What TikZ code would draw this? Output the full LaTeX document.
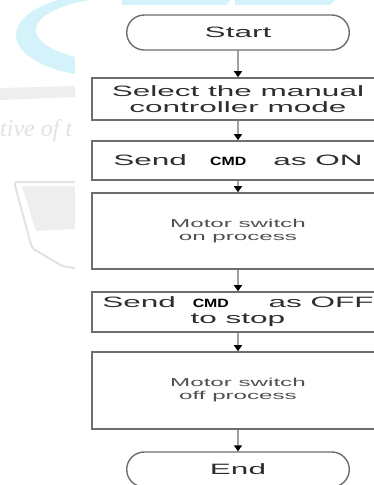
\documentclass[tikz,border=0pt]{standalone}
\usepackage{fontspec}
\usepackage{graphicx}
\setmainfont{Liberation Sans}
\newfontfamily\wmserif{Liberation Serif}
\usetikzlibrary{arrows.meta, positioning}
\definecolor{boxgray}{HTML}{6E6E6E}
\definecolor{textgray}{HTML}{2E2E2E}
\definecolor{softgray}{HTML}{505050}
\definecolor{wmcyan}{HTML}{D3F2FA}
\definecolor{wmgray}{HTML}{EEEEEE}
\definecolor{wmline}{HTML}{E2E2E2}
\newcommand{\cmdtag}{{\fontsize{12}{12}\selectfont\bfseries\color{black}\scalebox{0.63}[1]{CMD}}}

\begin{document}
\begin{tikzpicture}[x=1pt, y=1pt,
  wide/.style={xscale=2.1, transform shape},
  term/.style={wide, draw=boxgray, line width=1.4pt, rounded corners=17.5pt, minimum width=106pt, minimum height=35pt, font=\fontsize{15}{16}\selectfont, text=textgray},
  procbox/.style={wide, draw=boxgray, line width=1.6pt, minimum width=139pt, align=center, font=\fontsize{15}{16}\selectfont, text=textgray},
  softbox/.style={procbox, font=\fontsize{11.5}{13}\selectfont, text=softgray},
  flow/.style={draw=boxgray, line width=1.4pt, -{Triangle[length=6pt, width=8pt, color=black]}}]
\useasboundingbox (0,0) rectangle (374,-485);
\clip (0,0) rectangle (374,-485);
% Background watermark
\fill[wmcyan, even odd rule] (110,-35) ellipse [x radius=94, y radius=42] (128,-30) ellipse [x radius=92, y radius=33];
\fill[wmcyan] (122,0) -- (230,0) -- (227,-5) -- (122,-5) -- cycle;
\fill[wmcyan] (235,0) -- (335,0) -- (330,-5) -- (235,-5) -- cycle;
\fill[wmgray] (0,-88) -- (75,-86) -- (75,-97) -- (0,-100) -- cycle;
\node[anchor=west, inner sep=0pt, text=wmline, font=\wmserif\itshape\fontsize{24}{24}\selectfont] (wmtext) at (0,-131) {tive of t};
\fill[wmgray] (22,-186) -- (75,-186) -- (75,-229) -- (36,-231) -- cycle;
\draw[wmline, line width=2pt, rounded corners=3pt] (75,-182) -- (14,-182) -- (32,-248) -- (62,-266) -- (75,-268);
\fill[white] (75,-5) rectangle (374,-485);
% Flowchart
\node[term] (start) at (238,-32.5) {Start};
\node[procbox, minimum height=42pt] (select) at (238,-99) {Select the manual\\controller mode};
\node[procbox, minimum height=39pt] (sendon) at (238,-160.5) {Send\hspace{11pt}\cmdtag\hspace{12.9pt}as ON};
\node[softbox, minimum height=76pt] (motoron) at (238,-231) {Motor switch\\on process};
\node[procbox, minimum height=40pt] (sendoff) at (238,-312) {Send\hspace{8pt}\cmdtag\hspace{18.9pt}as OFF\\to stop};
\node[softbox, minimum height=77pt] (motoroff) at (238,-390.5) {Motor switch\\off process};
\node[term] (finish) at (238,-469.5) {End};
\draw[flow] (start) -- (select);
\draw[flow] (select) -- (sendon);
\draw[flow] (sendon) -- (motoron);
\draw[flow] (motoron) -- (sendoff);
\draw[flow] (sendoff) -- (motoroff);
\draw[flow] (motoroff) -- (finish);
\end{tikzpicture}
\end{document}
